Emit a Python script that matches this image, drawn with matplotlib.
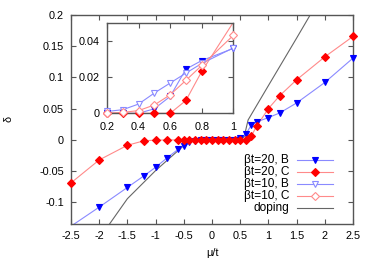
import numpy as np
import matplotlib
matplotlib.use("Agg")
import matplotlib.pyplot as plt
from matplotlib.lines import Line2D

plt.rcParams['font.family'] = ['Liberation Sans', 'DejaVu Sans']
plt.rcParams['axes.unicode_minus'] = False

# ---------------- data ----------------
mu_b20 = [-2.5, -2.0, -1.5, -1.2, -1.0, -0.8, -0.6, -0.5, -0.4, -0.3, -0.2, -0.1, 0.0,
          0.1, 0.2, 0.3, 0.4, 0.5, 0.6, 0.7, 0.8, 1.0, 1.2, 1.5, 2.0, 2.5]
d_b20 = [-0.138, -0.1075, -0.076, -0.057, -0.0437, -0.029, -0.015, -0.009, -0.004, -0.001,
         0.0, 0.0, 0.0, 0.0, 0.0, 0.0, 0.0, 0.0025, 0.0093, 0.0244, 0.0291, 0.0358,
         0.0432, 0.0592, 0.092, 0.131]

mu_c20 = [-2.5, -2.0, -1.5, -1.2, -1.0, -0.8, -0.6, -0.5, -0.4, -0.3, -0.2, -0.1, 0.0,
          0.1, 0.2, 0.3, 0.4, 0.5, 0.6, 0.7, 0.8, 1.0, 1.2, 1.5, 2.0, 2.5]
d_c20 = [-0.0687, -0.032, -0.0085, -0.0012, -0.0003, 0.0, 0.0, 0.0, 0.0, 0.0, 0.0, 0.0, 0.0,
         0.0, 0.0, 0.0, 0.0, 0.0, 0.0, 0.0071, 0.0231, 0.0502, 0.0708, 0.0963, 0.133, 0.1657]

mu_b10 = [0.2, 0.3, 0.4, 0.5, 0.6, 0.7, 0.8, 1.0]
d_b10 = [0.001, 0.002, 0.0051, 0.0112, 0.0167, 0.0222, 0.0275, 0.0361]

mu_c10 = [0.2, 0.3, 0.4, 0.5, 0.6, 0.7, 0.8, 1.0]
d_c10 = [0.0, 0.0005, 0.0015, 0.0046, 0.0102, 0.0182, 0.0264, 0.043]

mu_dop = [-2.0, -1.5, -1.0, -0.5, -0.3, 0.5, 0.57, 0.64, 1.0, 1.5, 2.0]
d_dop = [-0.158, -0.094, -0.049, -0.009, 0.0, 0.0, 0.005, 0.032, 0.087, 0.163, 0.24]

labels = ["\u03b2t=20, B", "\u03b2t=20, C", "\u03b2t=10, B", "\u03b2t=10, C", "doping"]

main_xticks = [-2.5, -2, -1.5, -1, -0.5, 0, 0.5, 1, 1.5, 2, 2.5]
main_yticks = [-0.1, -0.05, 0, 0.05, 0.1, 0.15, 0.2]
inset_xticks = [0.2, 0.4, 0.6, 0.8, 1.0]
inset_yticks = [0, 0.02, 0.04]

# ---------------- style ----------------
BLUE = '#0000ff'
RED = '#ff0000'
LBLUE = '#8a8aff'
LRED = '#ff8a8a'
GRAY = '#666666'
SPINE = '#555555'
FS = 7.8

styles = [
    dict(color=LBLUE, marker='v', mfc=BLUE, mec=BLUE, ms=5.0),
    dict(color=LRED, marker='D', mfc=RED, mec=RED, ms=3.8),
    dict(color=LBLUE, marker='v', mfc='white', mec=LBLUE, ms=5.0),
    dict(color=LRED, marker='D', mfc='white', mec=LRED, ms=3.8),
    dict(color=GRAY, marker=None),
]

fig = plt.figure(figsize=(3.74, 2.62), dpi=100)
W, H = 374.0, 262.0


def px_axes(l, t, r, b):
    return [l / W, 1 - b / H, (r - l) / W, (b - t) / H]


def plot_series(ax, x, y, st, xlim, ylim):
    x = np.asarray(x)
    y = np.asarray(y)
    ax.plot(x, y, color=st['color'], lw=0.8, zorder=2)
    if st['marker'] is not None:
        m = (x >= xlim[0] - 1e-9) & (x <= xlim[1] + 1e-9) & (y >= ylim[0] - 1e-9) & (y <= ylim[1] + 1e-9)
        ax.plot(x[m], y[m], ls='none', marker=st['marker'], mfc=st['mfc'], mec=st['mec'],
                ms=st['ms'], mew=0.8, clip_on=False, zorder=3)


def style_axes(ax, pad_x, pad_y):
    for s in ax.spines.values():
        s.set_color(SPINE)
        s.set_linewidth(1.0)
    ax.tick_params(direction='in', top=True, right=True, length=3.5, width=0.8,
                   color=SPINE, labelsize=FS)
    ax.tick_params(axis='x', pad=pad_x)
    ax.tick_params(axis='y', pad=pad_y)


# main axes
ax = fig.add_axes(px_axes(71, 15, 353, 224.3))
xlim = (-2.5, 2.5)
ylim = (-0.135, 0.2)
plot_series(ax, mu_dop, d_dop, styles[4], xlim, ylim)
plot_series(ax, mu_b20, d_b20, styles[0], xlim, ylim)
plot_series(ax, mu_c20, d_c20, styles[1], xlim, ylim)
ax.set_xlim(*xlim)
ax.set_ylim(*ylim)
ax.set_xticks(main_xticks)
ax.set_xticklabels([f"{v:g}" for v in main_xticks])
ax.set_yticks(main_yticks)
ax.set_yticklabels([f"{v:g}" for v in main_yticks])
style_axes(ax, 5, 5)

fig.text(212 / W, 1 - 253 / H, "\u03bc/t", ha='center', va='center', fontsize=FS)
fig.text(8 / W, 1 - 119 / H, "\u03b4", ha='center', va='center', fontsize=FS, rotation=90)

# manual legend (gnuplot style: right-aligned text, sample on the right)
rows = [159.5, 171.7, 183.9, 196.1, 208.3]
x_text, x_l0, x_l1 = 289.0, 297.0, 333.0


def ax_xy(px, py):
    return (px - 71) / 282.0, (224.3 - py) / 209.3


for lab, st, py in zip(labels, styles, rows):
    tx, ty = ax_xy(x_text, py)
    ax.text(tx, ty, lab, transform=ax.transAxes, ha='right', va='center', fontsize=8.6)
    a0, _ = ax_xy(x_l0, py)
    a1, _ = ax_xy(x_l1, py)
    ax.add_line(Line2D([a0, a1], [ty, ty], transform=ax.transAxes, color=st['color'], lw=0.8))
    if st['marker'] is not None:
        ax.add_line(Line2D([(a0 + a1) / 2], [ty], transform=ax.transAxes, ls='none',
                           marker=st['marker'], mfc=st['mfc'], mec=st['mec'], ms=st['ms'], mew=0.8))

# inset
axi = fig.add_axes(px_axes(107, 22.7, 233.3, 113.3))
axi.set_facecolor('white')
ixlim = (0.2, 1.0)
iylim = (0.0, 0.05)
plot_series(axi, mu_b20, d_b20, styles[0], ixlim, iylim)
plot_series(axi, mu_c20, d_c20, styles[1], ixlim, iylim)
plot_series(axi, mu_b10, d_b10, styles[2], ixlim, iylim)
plot_series(axi, mu_c10, d_c10, styles[3], ixlim, iylim)
axi.set_xlim(*ixlim)
axi.set_ylim(*iylim)
axi.set_xticks(inset_xticks)
axi.set_xticklabels([f"{v:g}" for v in inset_xticks])
axi.set_yticks(inset_yticks)
axi.set_yticklabels([f"{v:g}" for v in inset_yticks])
style_axes(axi, 6, 5)

fig.savefig("out.png", dpi=100)
